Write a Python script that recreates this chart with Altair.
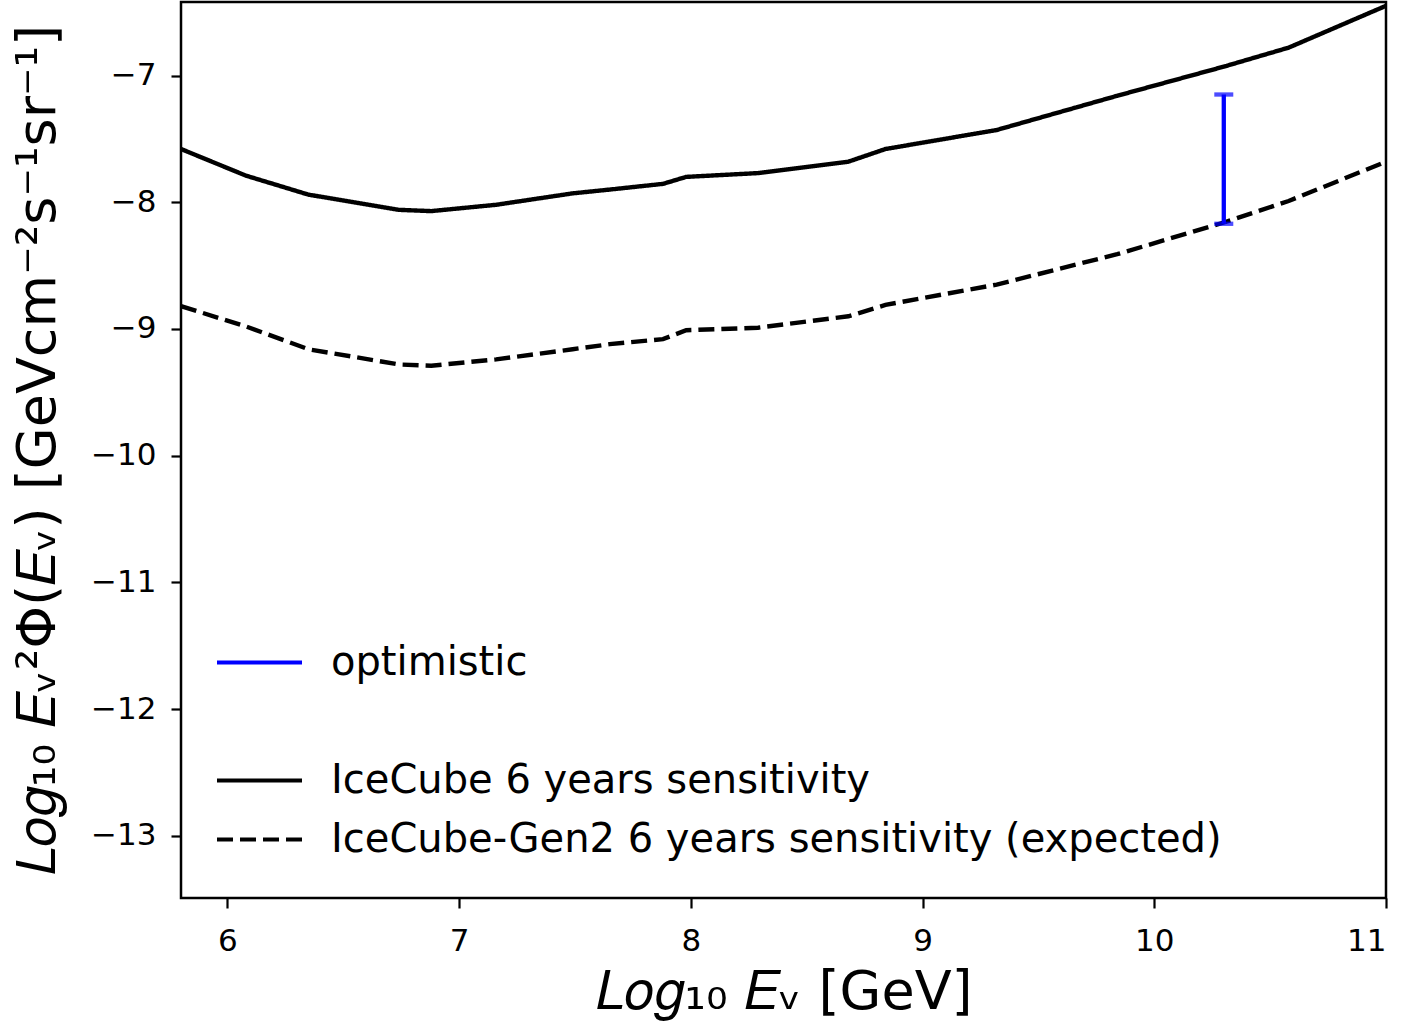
import altair as alt
import pandas as pd

# ---- data ----
energy = [5.8, 6.08, 6.35, 6.74, 6.88, 7.16, 7.49, 7.65, 7.88, 7.98,
          8.29, 8.68, 8.84, 9.32, 9.84, 10.30, 10.58, 11.0]
icecube = [-7.58, -7.79, -7.94, -8.06, -8.07, -8.02, -7.93, -7.90, -7.855, -7.80,
           -7.77, -7.68, -7.58, -7.43, -7.16, -6.93, -6.78, -6.45]
gen2 = [-8.82, -8.98, -9.16, -9.28, -9.29, -9.24, -9.16, -9.12, -9.08, -9.01,
        -8.99, -8.90, -8.81, -8.65, -8.41, -8.16, -7.99, -7.68]

series_names = ["optimistic", " ", "IceCube 6 years sensitivity",
                "IceCube-Gen2 6 years sensitivity (expected)"]
series_colors = ["#0000ff", "transparent", "black", "black"]
series_dash = [[1, 0], [1, 0], [1, 0], [16, 7]]

opt_energy = [10.3]
opt_low = [-8.17]
opt_high = [-7.15]

x_ticks = [6, 7, 8, 9, 10, 11]
y_ticks = [-13, -12, -11, -10, -9, -8, -7]

rows = []
for e, v in zip(energy, icecube):
    rows.append({"E": e, "flux": v, "series": series_names[2]})
for e, v in zip(energy, gen2):
    rows.append({"E": e, "flux": v, "series": series_names[3]})
lines_df = pd.DataFrame(rows)
err_df = pd.DataFrame({"E": opt_energy, "lo": opt_low, "hi": opt_high})

FONT = "DejaVu Sans"
X_TITLE = "𝐿𝑜𝑔₁₀ 𝐸ᵥ [GeV]"
Y_TITLE = "𝐿𝑜𝑔₁₀ 𝐸ᵥ²Φ(𝐸ᵥ) [GeVcm⁻²s⁻¹sr⁻¹]"

x_scale = alt.Scale(domain=[5.8, 11.0], nice=False, zero=False)
y_scale = alt.Scale(domain=[-13.49, -6.42], nice=False, zero=False)

legend = alt.Legend(
    title=None, orient="none", legendX=34, legendY=631,
    symbolType="stroke", symbolSize=7225, symbolStrokeWidth=4,
    labelFontSize=40, labelFont=FONT, labelColor="black", labelOffset=27,
    labelLimit=2000, rowPadding=0, clipHeight=59, padding=0,
)

lines = alt.Chart(lines_df).mark_line(strokeWidth=4.4, clip=True).encode(
    x=alt.X("E:Q", scale=x_scale, title=X_TITLE,
            axis=alt.Axis(values=x_ticks, format="d", labelPadding=18)),
    y=alt.Y("flux:Q", scale=y_scale, title=Y_TITLE,
            axis=alt.Axis(values=y_ticks, format="d", labelPadding=15)),
    color=alt.Color("series:N",
                    scale=alt.Scale(domain=series_names, range=series_colors),
                    legend=legend),
    strokeDash=alt.StrokeDash("series:N",
                              scale=alt.Scale(domain=series_names, range=series_dash),
                              legend=legend),
    order=alt.Order("E:Q"),
)

errbar = alt.Chart(err_df).mark_errorbar(
    ticks=True, size=19, thickness=4.3, color="#0000ff"
).encode(
    x=alt.X("E:Q", scale=x_scale, title=X_TITLE),
    y=alt.Y("lo:Q", scale=y_scale, title=Y_TITLE),
    y2="hi:Q",
)

chart = alt.layer(lines, errbar).properties(
    width=1205, height=896,
    autosize=alt.AutoSizeParams(type="none"),
    padding={"left": 181, "top": 2, "right": 20, "bottom": 125},
    background="white",
).configure_view(
    stroke="black", strokeWidth=2.5
).configure_axis(
    domain=False, grid=False,
    tickColor="black", tickWidth=2.2, tickSize=10,
    labelFont=FONT, labelFontSize=31, labelColor="black",
    titleFont=FONT, titleFontSize=54, titleFontWeight="normal", titleColor="black",
).configure_axisY(
    titlePadding=25,
).configure_axisX(
    titlePadding=9,
)

chart.save("out.html", embed_options={"renderer": "svg", "actions": False})
